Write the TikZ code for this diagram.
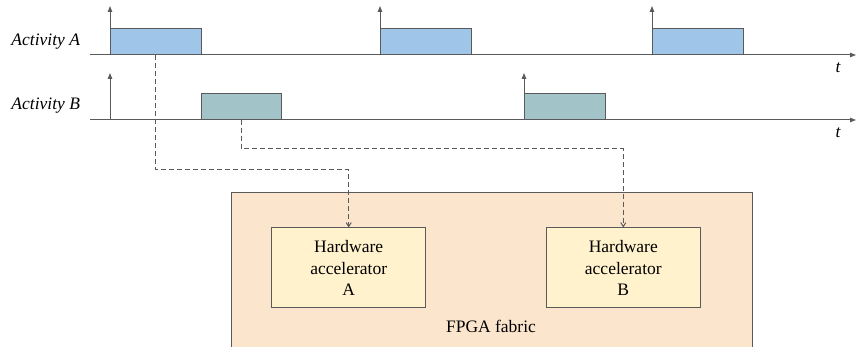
\documentclass[tikz,border=0pt]{standalone}
\usepackage{fontspec}
\setmainfont{Liberation Serif}
\usepackage{tikz}
\usetikzlibrary{arrows.meta, positioning}
\definecolor{colorLine}{HTML}{5A5A5A}
\definecolor{colorActA}{HTML}{9FC5E8}
\definecolor{colorActB}{HTML}{A2C4C9}
\definecolor{colorFabric}{HTML}{FCE5CD}
\definecolor{colorAccel}{HTML}{FFF2CC}
\tikzset{
  pulse/.style={draw=colorLine, line width=1pt, minimum height=26pt, inner sep=0pt, anchor=south west},
  accel/.style={draw=colorLine, line width=1pt, fill=colorAccel, minimum width=154pt, minimum height=80pt, align=center, font=\fontsize{17.5}{21.5}\selectfont},
  lbl/.style={font=\fontsize{17.5}{21.5}\selectfont\itshape, inner sep=0pt},
  link/.style={draw=colorLine, line width=1pt, dash pattern=on 5pt off 3pt, -{Straight Barb[length=4pt,width=5pt]}},
}

\begin{document}
\begin{tikzpicture}[x=1pt, y=-1pt, >={Triangle[length=6pt,width=4.5pt]}, line width=1pt]
\clip (0,0) rectangle (857,347);
\node[draw=colorLine, fill=colorFabric, minimum width=521pt, minimum height=180pt, anchor=north west] (fabric) at (231,192) {};
\node[font=\fontsize{17.5}{21.5}\selectfont, anchor=base, inner sep=0pt] (fabricText) at (491,333) {FPGA fabric};
\node[accel] (hwA) at (348.7,268) {Hardware\\accelerator\\A};
\node[accel] (hwB) at (623.3,268) {Hardware\\accelerator\\B};
\coordinate (axAstart) at (90,55);
\coordinate (axAend) at (856,55);
\coordinate (axBstart) at (90,120);
\coordinate (axBend) at (856,120);
\coordinate (tipA) at (0,6);
\coordinate (tipB) at (0,73);
\coordinate (busA) at (0,170);
\coordinate (busB) at (0,149);
\node[lbl, anchor=base west] (actA) at (11,46) {Activity A};
\node[lbl, anchor=base west] (actB) at (11,110) {Activity B};
\node[lbl, anchor=base] (tA) at (838,73) {t};
\node[lbl, anchor=base] (tB) at (838,138) {t};
\foreach \x [count=\i] in {110,380,652} {
  \node[pulse, fill=colorActA, minimum width=90.5pt] (a\i) at (\x,55) {};
  \draw[->, colorLine] (a\i.south west) -- (a\i.south west |- tipA);
}
\node[pulse, fill=colorActB, minimum width=80.5pt] (b1) at (200.5,120) {};
\node[pulse, fill=colorActB, minimum width=81pt] (b2) at (524,120) {};
\draw[->, colorLine] (axBstart -| 110,0) -- (tipB -| 110,0);
\draw[->, colorLine] (b2.south west) -- (b2.south west |- tipB);
\draw[->, colorLine] (axAstart) -- (axAend);
\draw[->, colorLine] (axBstart) -- (axBend);
\draw[link] (a1.south) -- (a1.south |- busA) -| (hwA.north);
\draw[link] (b1.south) -- (b1.south |- busB) -| (hwB.north);
\end{tikzpicture}
\end{document}
